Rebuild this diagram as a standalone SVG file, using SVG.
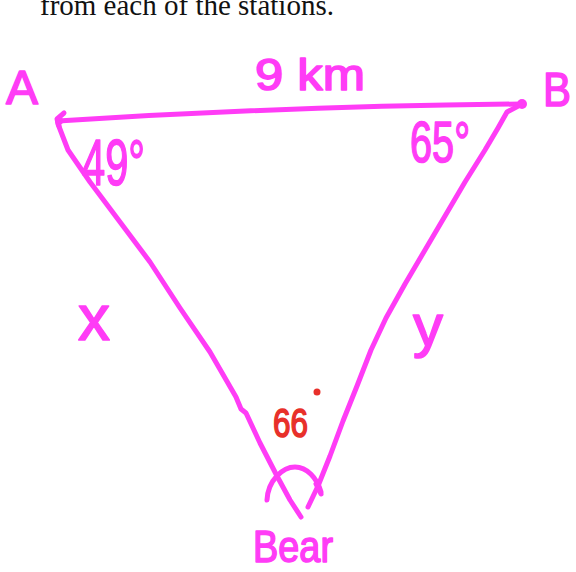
<svg xmlns="http://www.w3.org/2000/svg" width="576" height="572" viewBox="0 0 576 572">
<style>
.ink{fill:none;stroke:#ff3cf6;stroke-width:5;stroke-linecap:round;stroke-linejoin:round}
.lbl{font-family:"Liberation Sans","Open Sans",sans-serif;fill:#ff3cf6;stroke:#ff3cf6;stroke-width:1.6;stroke-linejoin:round}
.red{font-family:"Liberation Sans","Open Sans",sans-serif;fill:#e8302a;stroke:#e8302a;stroke-width:1.6;stroke-linejoin:round}
.prob{font-family:"Liberation Serif","Times New Roman",serif;font-size:29px;fill:#111}
</style>
<rect width="576" height="572" fill="#fff"/>
<text class="prob" x="40" y="15">from each of the stations.</text>
<g id="connectors">
<path id="side-AB" class="ink" d="M58,121 Q290,106 522,104"/>
<path id="side-A-Bear" class="ink" d="M58,124 L68,150 L90,182 L120,222 L150,262 L180,308 L210,352 L236,397 L241,409 L246,413 L260,443 L277,476 L290,500 L301,517"/>
<path id="side-B-Bear" class="ink" d="M522,104 L507,112 L498,128 L485,150 L465,182 L445,216 L425,250 L405,284 L386,318 L371,350 L357,386 L343,421 L330,456 L318,486 L308,507"/>
</g>
<g id="node-A">
<circle cx="59" cy="121" r="4" fill="#ff3cf6"/>
<path class="ink" d="M64,113 L57,119 L59,126"/>
<text class="lbl" x="6" y="104" font-size="48">A</text>
<text class="lbl" x="82" y="185" font-size="64" textLength="63" lengthAdjust="spacingAndGlyphs">49°</text>
</g>
<g id="node-B">
<circle cx="522" cy="104" r="5" fill="#ff3cf6"/>
<text class="lbl" x="543" y="106" font-size="48" textLength="28" lengthAdjust="spacingAndGlyphs">B</text>
<text class="lbl" x="410" y="162" font-size="58" textLength="60" lengthAdjust="spacingAndGlyphs">65°</text>
</g>
<g id="node-Bear">
<path class="ink" d="M267,500 C268,480 283,467 295,467 C307,467 317,478 321,492"/>
<path class="ink" d="M316,484 L321,494"/>
<text class="red" x="273" y="437" font-size="40" textLength="35" lengthAdjust="spacingAndGlyphs">66</text>
<circle cx="317" cy="392" r="3.5" fill="#e8302a"/>
<text class="lbl" x="253" y="562" font-size="45" textLength="80" lengthAdjust="spacingAndGlyphs">Bear</text>
</g>
<g id="labels">
<text class="lbl" x="255" y="90" font-size="44" textLength="110" lengthAdjust="spacingAndGlyphs">9 km</text>
<text class="lbl" x="78" y="340" font-size="64">x</text>
<text class="lbl" x="413" y="346" font-size="60">y</text>
</g>
</svg>
